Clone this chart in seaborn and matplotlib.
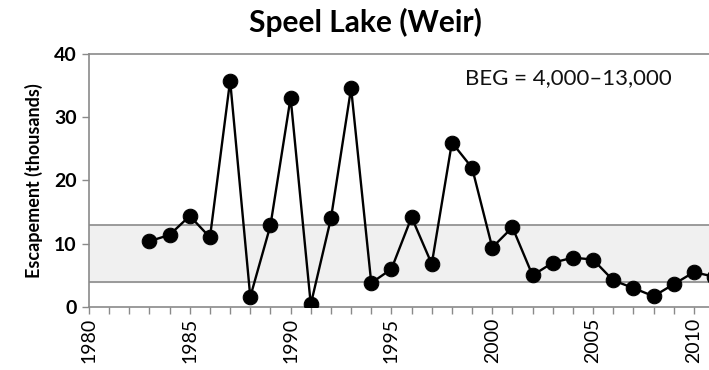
import matplotlib
matplotlib.use("Agg")
import matplotlib.pyplot as plt
import seaborn as sns
import pandas as pd
from matplotlib.ticker import MultipleLocator

years = [1983, 1984, 1985, 1986, 1987, 1988, 1989, 1990, 1991, 1992,
         1993, 1994, 1995, 1996, 1997, 1998, 1999, 2000, 2001, 2002,
         2003, 2004, 2005, 2006, 2007, 2008, 2009, 2010, 2011]
escapement = [10.4, 11.4, 14.4, 11.0, 35.8, 1.6, 12.9, 33.1, 0.4, 14.0,
              34.6, 3.8, 6.0, 14.2, 6.8, 26.0, 22.0, 9.4, 12.6, 5.0,
              7.0, 7.8, 7.5, 4.2, 3.0, 1.7, 3.6, 5.5, 4.8]
goal_low, goal_high = 4, 13
x_ticks = [1980, 1985, 1990, 1995, 2000, 2005, 2010]
y_ticks = [0, 10, 20, 30, 40]

sns.set_theme(style="white")
plt.rcParams["font.family"] = ["Lato", "DejaVu Sans"]
plt.rcParams["text.color"] = "black"
plt.rcParams["axes.labelcolor"] = "black"
plt.rcParams["xtick.labelcolor"] = "black"
plt.rcParams["ytick.labelcolor"] = "black"

df = pd.DataFrame({"Year": years, "Escapement": escapement})

fig = plt.figure(figsize=(7.09, 3.70), dpi=100)
ax = fig.add_axes([0.1255, 0.1703, 0.8745, 0.6838])

# escapement goal range
ax.axhspan(goal_low, goal_high, color="#f0f0f0", zorder=0)
ax.axhline(goal_low, color="#8a8a8a", lw=1.2, zorder=1)
ax.axhline(goal_high, color="#8a8a8a", lw=1.2, zorder=1)

sns.lineplot(data=df, x="Year", y="Escapement", ax=ax, color="black",
             lw=1.7, marker="o", markersize=10.5, markeredgecolor="black",
             markerfacecolor="black", zorder=3, clip_on=True)

ax.set_xlim(1980, 2010.75)
ax.set_ylim(0, 40)
ax.set_xticks(x_ticks)
ax.set_xticklabels([str(t) for t in x_ticks], rotation=90, fontsize=14)
ax.xaxis.set_minor_locator(MultipleLocator(1))
ax.set_yticks(y_ticks)
ax.set_yticklabels([str(t) for t in y_ticks], fontsize=14, fontweight="bold")

ax.tick_params(axis="x", which="both", direction="out", bottom=True,
               length=5, width=1, color="#8a8a8a", pad=3)
ax.tick_params(axis="y", which="major", direction="out", left=True,
               length=5, width=1, color="#8a8a8a", pad=4)

for side in ["left", "bottom", "top"]:
    ax.spines[side].set_visible(True)
    ax.spines[side].set_color("#8a8a8a")
    ax.spines[side].set_linewidth(1.2)
ax.spines["right"].set_visible(False)

ax.set_xlabel("")
ax.set_ylabel("Escapement (thousands)", fontsize=13, fontweight="bold",
              labelpad=8)

ax.text(0.94, 0.905, "BEG = 4,000\u201313,000", transform=ax.transAxes,
        ha="right", va="center", fontsize=16, color="#111111")

fig.text(0.515, 0.94, "Speel Lake (Weir)", ha="center", va="center",
         fontsize=21.5, fontweight="bold")

fig.savefig("out.png", dpi=100)
